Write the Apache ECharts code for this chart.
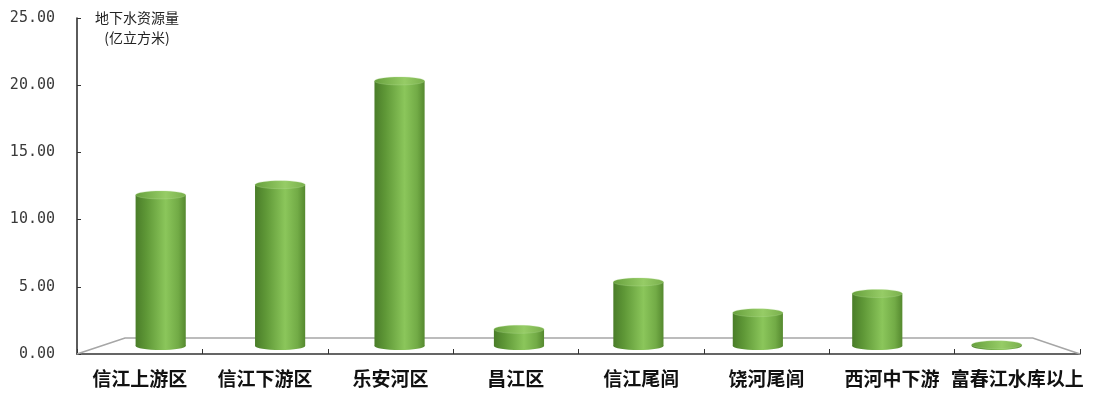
<!DOCTYPE html>
<html>
<head>
<meta charset="utf-8">
<script src="https://cdn.jsdelivr.net/npm/echarts@6/dist/echarts.min.js"></script>
<style>
  html, body { margin: 0; padding: 0; background: #fff; }
  #chart { width: 1095px; height: 399px; }
</style>
</head>
<body>
<div id="chart"></div>
<script>
// 各分区地下水资源量（亿立方米）
const categories = ['信江上游区', '信江下游区', '乐安河区', '昌江区', '信江尾闾', '饶河尾闾', '西河中下游', '富春江水库以上'];
const values = [11.8, 12.6, 20.7, 1.3, 5.0, 2.6, 4.1, 0.1];
const yTicks = [0, 5, 10, 15, 20, 25];
const unitTitle = ['地下水资源量', '(亿立方米)'];

// Pseudo-3D layout: floor recedes toward a vanishing point near the plot centre.
const VP_X = 0.504, VP_Y = 0.497;   // vanishing point as a fraction of the grid box
const MID_K = 0.9526;               // depth scale where the columns stand
const BACK_K = 0.905;               // depth scale of the floor's back edge
const BAR_FRAC = 0.42;              // column diameter relative to category band
const CAP_RY = 4;                   // vertical radius of the elliptical caps

function toDepth(cs, p, k) {
  const vx = cs.x + cs.width * VP_X;
  const vy = cs.y + cs.height * VP_Y;
  return [vx + (p[0] - vx) * k, vy + (p[1] - vy) * k];
}

const bodyGradient = {
  type: 'linear', x: 0, y: 0, x2: 1, y2: 0,
  colorStops: [
    { offset: 0, color: '#4a7d29' },
    { offset: 0.22, color: '#5f9837' },
    { offset: 0.6, color: '#8bc65b' },
    { offset: 0.85, color: '#72ab46' },
    { offset: 1, color: '#55892f' }
  ]
};
const capGradient = {
  type: 'linear', x: 0, y: 0, x2: 1, y2: 0,
  colorStops: [
    { offset: 0, color: '#67a03d' },
    { offset: 0.6, color: '#96cc66' },
    { offset: 1, color: '#79af4c' }
  ]
};

function renderFloor(params, api) {
  const cs = params.coordSys;
  const fl = [cs.x, cs.y + cs.height];
  const fr = [cs.x + cs.width, cs.y + cs.height];
  const bl = toDepth(cs, fl, BACK_K);
  const br = toDepth(cs, fr, BACK_K);
  return {
    type: 'polyline',
    shape: { points: [fl, bl, br, fr] },
    style: { stroke: '#a6a6a6', lineWidth: 1.6, fill: null },
    silent: true
  };
}

function renderColumn(params, api) {
  const cs = params.coordSys;
  const idx = api.value(0);
  const base = toDepth(cs, api.coord([idx, 0]), MID_K);
  const top = toDepth(cs, api.coord([idx, api.value(1)]), MID_K);
  const rx = api.size([1, 0])[0] * BAR_FRAC * MID_K / 2;
  const cx = base[0];
  return {
    type: 'group',
    children: [
      { type: 'ellipse', shape: { cx: cx, cy: base[1], rx: rx, ry: CAP_RY }, style: { fill: bodyGradient } },
      { type: 'rect', shape: { x: cx - rx, y: top[1], width: rx * 2, height: base[1] - top[1] }, style: { fill: bodyGradient } },
      { type: 'ellipse', shape: { cx: cx, cy: top[1], rx: rx, ry: CAP_RY }, style: { fill: capGradient, stroke: 'rgba(180,220,150,0.5)', lineWidth: 0.6 } }
    ]
  };
}

const chart = echarts.init(document.getElementById('chart'), null, { renderer: 'canvas' });
chart.setOption({
  animation: false,
  backgroundColor: '#ffffff',
  grid: { left: 77, right: 15, top: 18, bottom: 45 },
  graphic: [{
    type: 'text',
    x: 137, y: 8,
    style: {
      text: unitTitle.join('\n'),
      font: '14px "Noto Sans CJK SC", sans-serif',
      fill: '#222',
      align: 'center',
      lineHeight: 20
    }
  }],
  xAxis: {
    type: 'category',
    data: categories,
    boundaryGap: true,
    axisLine: { lineStyle: { color: '#333', width: 1.6 } },
    axisTick: { show: true, inside: true, length: 5, interval: 0, alignWithLabel: false, lineStyle: { color: '#333', width: 1 } },
    axisLabel: {
      interval: 0, margin: 15,
      color: '#111',
      fontFamily: '"Noto Sans CJK SC", sans-serif',
      fontWeight: 'bold',
      fontSize: 19
    },
    splitLine: { show: false }
  },
  yAxis: {
    type: 'value',
    min: yTicks[0],
    max: yTicks[yTicks.length - 1],
    interval: yTicks[1] - yTicks[0],
    axisLine: { show: true, lineStyle: { color: '#333', width: 1.6 } },
    axisTick: { show: true, inside: true, length: 4, lineStyle: { color: '#333', width: 1 } },
    axisLabel: {
      margin: 22,
      color: '#3a3a3a',
      fontFamily: '"DejaVu Sans Mono", monospace',
      fontSize: 15,
      formatter: v => v.toFixed(2)
    },
    splitLine: { show: false }
  },
  series: [
    {
      name: 'floor',
      type: 'custom',
      renderItem: renderFloor,
      data: [[0, 0]],
      z: 1,
      silent: true
    },
    {
      name: '地下水资源量',
      type: 'custom',
      renderItem: renderColumn,
      data: values.map((v, i) => [i, v]),
      encode: { x: 0, y: 1 },
      z: 3
    }
  ]
});
</script>
</body>
</html>
